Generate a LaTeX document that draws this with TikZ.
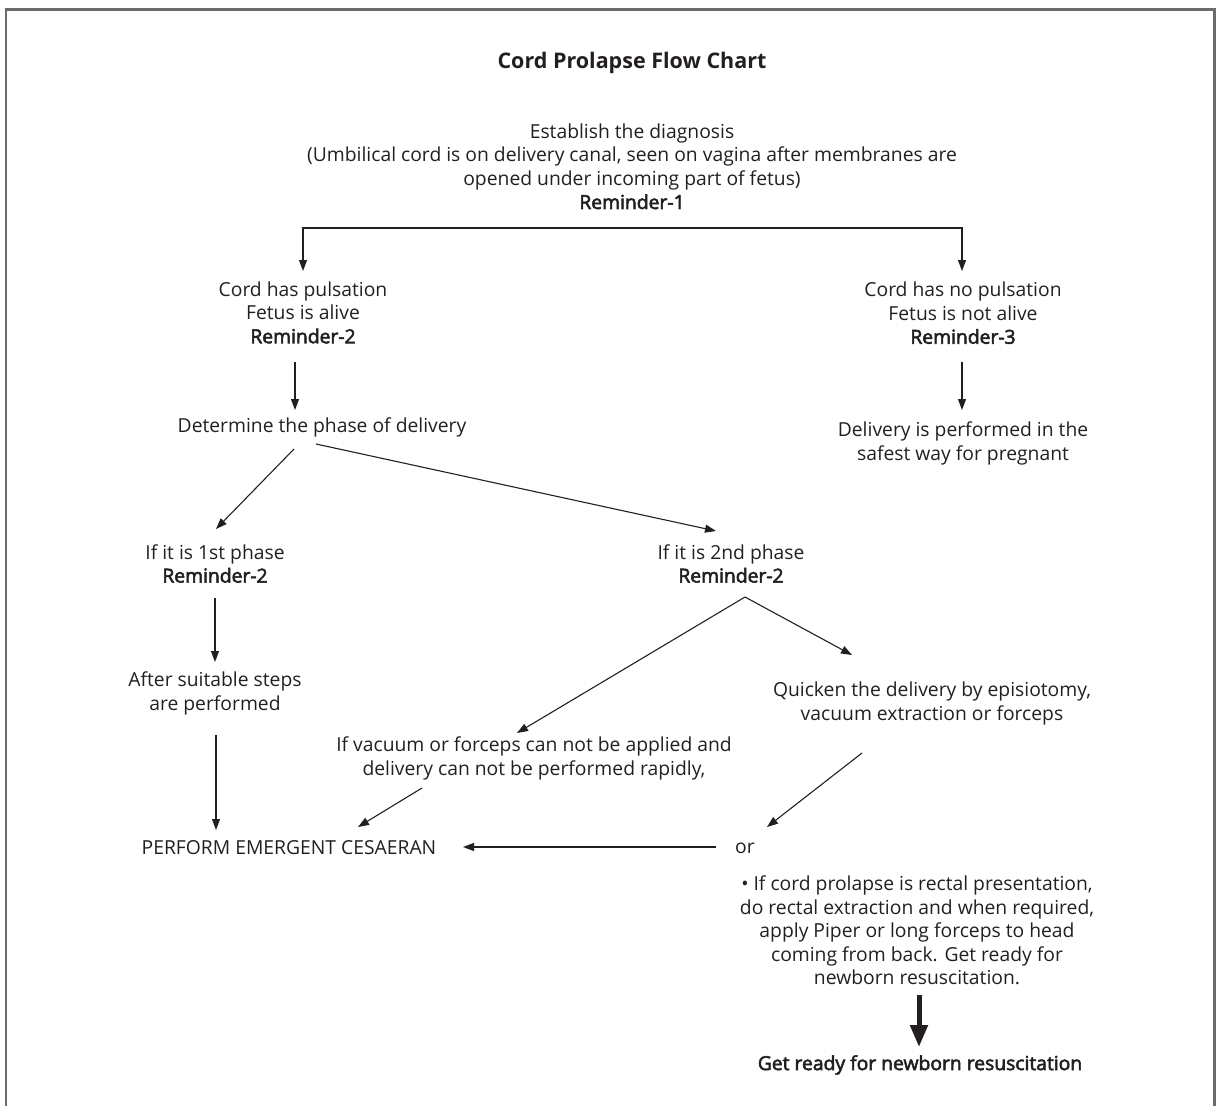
\documentclass[tikz,border=0pt]{standalone}
\usepackage{fontspec}
\setmainfont{Open Sans}
\newfontfamily\mediumface{Open Sans}[FakeBold=2.8]
\usetikzlibrary{arrows.meta,calc}
\definecolor{ink}{HTML}{231F20}
\definecolor{framegray}{HTML}{6B6B6B}
\newcommand{\bodyfont}{\fontsize{19.3}{23.5}\selectfont}
\newcommand{\headfont}{\fontsize{21.5}{25}\selectfont\bfseries}
\newcommand{\keyfont}{\mediumface}
\begin{document}
\begin{tikzpicture}[x=1pt,y=-1pt,
  txt/.style={font=\bodyfont, text=ink, align=center, inner sep=0pt},
  arr/.style={draw=ink, line width=1.1pt, -{Triangle[length=11pt,width=8pt]}},
  bigarr/.style={draw=ink, line width=5pt, -{Triangle[length=22pt,width=17pt]}}]
  \useasboundingbox (0,0) rectangle (1216,1106);
  % open frame (no bottom edge)
  \draw[framegray, line width=2.2pt] (6,1106) -- (6,9.5) -- (1214.5,9.5) -- (1214.5,1106);

  % texts
  \node[txt, font=\headfont] (title) at (632,63) {Cord Prolapse Flow Chart};
  \node[txt] (diag) at (632,166.5) {Establish the diagnosis\\
    (Umbilical cord is on delivery canal, seen on vagina after membranes are\\
    opened under incoming part of fetus)\\ {\keyfont Reminder-1}};
  \coordinate (fork) at (632,228);
  \node[txt] (pulse) at (303,312.5) {Cord has pulsation\\ Fetus is alive\\ {\keyfont Reminder-2}};
  \node[txt] (nopulse) at (963,313) {Cord has no pulsation\\ Fetus is not alive\\ {\keyfont Reminder-3}};
  \node[txt] (determine) at (322,427) {Determine the phase of delivery};
  \node[txt] (safest) at (963,443.5) {Delivery is performed in the\\ safest way for pregnant};
  \node[txt] (first) at (215,563.5) {If it is 1st phase\\ {\keyfont Reminder-2}};
  \node[txt] (second) at (731,563.5) {If it is 2nd phase\\ {\keyfont Reminder-2}};
  \node[txt] (after) at (215,693.5) {After suitable steps\\ are performed};
  \node[txt] (quicken) at (932,703.5) {Quicken the delivery by episiotomy,\\ vacuum extraction or forceps};
  \node[txt] (vacuum) at (534,758.5) {If vacuum or forceps can not be applied and\\ delivery can not be performed rapidly,};
  \node[txt] (perform) at (289,848) {PERFORM EMERGENT CESAERAN};
  \node[txt] (or) at (745,848) {or};
  \node[txt] (rectal) at (917,930.5) {\textbullet{} If cord prolapse is rectal presentation,\\
    do rectal extraction and when required,\\
    apply Piper or long forceps to head\\
    coming from back. Get ready for\\
    newborn resuscitation.};
  \node[txt] (ready) at (920,1065) {{\keyfont Get ready for newborn resuscitation}};

  % connectors
  \draw[arr] (fork) -| ($(pulse)+(0,-41.5)$);
  \draw[arr] (fork) -| ($(nopulse)+(-1,-42)$);
  \draw[arr] ($(pulse)+(-8,49.5)$) -- ($(determine)+(-27,-17)$);
  \draw[arr] ($(nopulse)+(-1,49)$) -- ($(safest)+(-1,-33.5)$);
  \draw[arr] ($(determine)+(-28,22)$) -- ($(first)+(1,-34.5)$);
  \draw[arr] ($(determine)+(-6,17)$) -- ($(second)+(-15,-32.5)$);
  \draw[arr] ($(first)+(0,34.5)$) -- ($(after)+(0,-31.5)$);
  \draw[arr] ($(after)+(1,41.5)$) -- ($(perform)+(-73,-18)$);
  \draw[arr] ($(second)+(14,33.5)$) -- ($(quicken)+(-80,-48.5)$);
  \draw[arr] ($(second)+(14,33.5)$) -- ($(vacuum)+(-17,-25.5)$);
  \draw[arr] ($(vacuum)+(-112,29.5)$) -- ($(perform)+(69,-21)$);
  \draw[arr] ($(quicken)+(-70,49.5)$) -- ($(or)+(22,-21)$);
  \draw[arr] ($(or)+(-29,-1)$) -- ($(perform)+(174,-1)$);
  \draw[bigarr] ($(rectal)+(2,64.5)$) -- ($(ready)+(-1,-18)$);
\end{tikzpicture}
\end{document}
